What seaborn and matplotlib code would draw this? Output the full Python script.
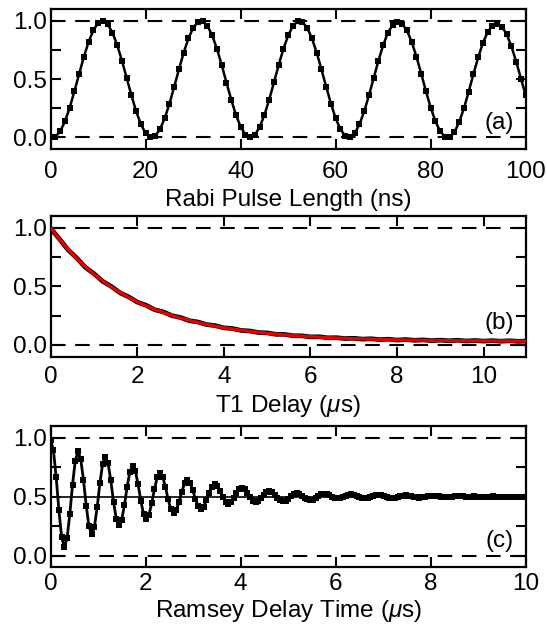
import numpy as np
import pandas as pd
import matplotlib
matplotlib.use("Agg")
import matplotlib.pyplot as plt
import seaborn as sns

# ---------------- data ----------------
rabi_ns = list(range(0, 101))
rabi_p = [0.006, 0.006, 0.051, 0.137, 0.255, 0.397, 0.547, 0.694, 0.822, 0.922,
          0.983, 1.000, 0.971, 0.900, 0.793, 0.658, 0.510, 0.360, 0.223, 0.111,
          0.035, 0.001, 0.013, 0.069, 0.163, 0.290, 0.434, 0.585, 0.728, 0.850,
          0.941, 0.991, 0.997, 0.957, 0.876, 0.760, 0.622, 0.471, 0.324, 0.192,
          0.089, 0.023, 0.000, 0.023, 0.089, 0.193, 0.324, 0.472, 0.622, 0.761,
          0.876, 0.957, 0.997, 0.991, 0.941, 0.850, 0.728, 0.584, 0.434, 0.289,
          0.163, 0.069, 0.013, 0.001, 0.035, 0.112, 0.223, 0.361, 0.510, 0.659,
          0.793, 0.900, 0.966, 0.990, 0.975, 0.918, 0.820, 0.693, 0.547, 0.396,
          0.256, 0.137, 0.051, 0.006, 0.000, 0.045, 0.131, 0.250, 0.393, 0.545,
          0.688, 0.812, 0.905, 0.960, 0.975, 0.952, 0.885, 0.781, 0.650, 0.505,
          0.360]

t1_us = [0.0, 0.2, 0.4, 0.6, 0.8, 1.0, 1.2, 1.4, 1.6, 1.8, 2.0, 2.2, 2.4, 2.6,
         2.8, 3.0, 3.2, 3.4, 3.6, 3.8, 4.0, 4.2, 4.4, 4.6, 4.8, 5.0, 5.2, 5.4,
         5.6, 5.8, 6.0, 6.2, 6.4, 6.6, 6.8, 7.0, 7.2, 7.4, 7.6, 7.8, 8.0, 8.2,
         8.4, 8.6, 8.8, 9.0, 9.2, 9.4, 9.6, 9.8, 10.0, 10.2, 10.4, 10.6, 10.8, 11.0]
t1_data = [0.995, 0.905, 0.812, 0.742, 0.662, 0.608, 0.543, 0.499, 0.445, 0.410,
           0.366, 0.339, 0.301, 0.282, 0.250, 0.234, 0.207, 0.196, 0.174, 0.165,
           0.146, 0.140, 0.124, 0.119, 0.106, 0.103, 0.091, 0.090, 0.079, 0.078,
           0.069, 0.070, 0.061, 0.062, 0.055, 0.057, 0.050, 0.053, 0.046, 0.049,
           0.042, 0.046, 0.040, 0.043, 0.037, 0.041, 0.036, 0.040, 0.034, 0.038,
           0.033, 0.037, 0.032, 0.036, 0.031, 0.034]
t1_fit = [1.000, 0.903, 0.816, 0.737, 0.667, 0.603, 0.546, 0.494, 0.448, 0.406,
          0.369, 0.335, 0.304, 0.277, 0.252, 0.230, 0.210, 0.192, 0.176, 0.161,
          0.148, 0.136, 0.126, 0.116, 0.108, 0.100, 0.093, 0.087, 0.081, 0.076,
          0.071, 0.067, 0.063, 0.060, 0.057, 0.054, 0.052, 0.050, 0.048, 0.046,
          0.044, 0.043, 0.042, 0.040, 0.039, 0.039, 0.038, 0.037, 0.036, 0.036,
          0.035, 0.035, 0.034, 0.034, 0.033, 0.033]

ramsey_step_us = 0.0575
ramsey_p = [0.980, 0.893, 0.666, 0.384, 0.157, 0.070, 0.148, 0.352, 0.603, 0.807,
            0.885, 0.818, 0.641, 0.424, 0.248, 0.180, 0.243, 0.408, 0.612, 0.777,
            0.840, 0.784, 0.638, 0.457, 0.311, 0.255, 0.303, 0.429, 0.586, 0.712,
            0.760, 0.717, 0.605, 0.465, 0.353, 0.310, 0.347, 0.445, 0.565, 0.663,
            0.700, 0.668, 0.583, 0.477, 0.392, 0.360, 0.387, 0.457, 0.543, 0.613,
            0.640, 0.617, 0.556, 0.480, 0.418, 0.395, 0.415, 0.468, 0.532, 0.585,
            0.605, 0.589, 0.548, 0.497, 0.456, 0.440, 0.453, 0.487, 0.528, 0.562,
            0.575, 0.564, 0.534, 0.496, 0.466, 0.455, 0.464, 0.486, 0.514, 0.536,
            0.545, 0.537, 0.516, 0.490, 0.468, 0.460, 0.466, 0.483, 0.505, 0.522,
            0.528, 0.522, 0.508, 0.490, 0.476, 0.470, 0.475, 0.489, 0.506, 0.520,
            0.525, 0.521, 0.511, 0.499, 0.489, 0.485, 0.488, 0.497, 0.508, 0.517,
            0.520, 0.517, 0.509, 0.498, 0.490, 0.487, 0.490, 0.497, 0.505, 0.512,
            0.515, 0.513, 0.506, 0.499, 0.492, 0.490, 0.492, 0.497, 0.503, 0.508,
            0.510, 0.508, 0.504, 0.498, 0.494, 0.492, 0.494, 0.498, 0.502, 0.506,
            0.508, 0.507, 0.503, 0.500, 0.496, 0.495, 0.496, 0.498, 0.502, 0.504,
            0.505, 0.503, 0.498, 0.495, 0.499, 0.502, 0.497, 0.494, 0.498, 0.501,
            0.496, 0.499, 0.503, 0.497, 0.495, 0.500, 0.498, 0.494, 0.499, 0.501,
            0.496, 0.498, 0.500, 0.495, 0.497]
ramsey_us = [round(i * ramsey_step_us, 4) for i in range(len(ramsey_p))]

y_ticks = [0.0, 0.5, 1.0]
y_tick_labels = ["0.0", "0.5", "1.0"]
rabi_xticks = [0, 20, 40, 60, 80, 100]
us_xticks = [0, 2, 4, 6, 8, 10]

# ---------------- style ----------------
sns.set_style("ticks")
plt.rcParams["font.family"] = ["Liberation Sans", "DejaVu Sans"]
plt.rcParams["mathtext.fontset"] = "custom"
plt.rcParams["mathtext.it"] = "Liberation Sans:italic"
plt.rcParams["mathtext.rm"] = "Liberation Sans"

FS = 17.5
fig = plt.figure(figsize=(5.47, 6.38), dpi=100)
W, H = 547.0, 638.0
left, right = 50.7, 525.7
boxes = [(9.3, 149.0), (216.0, 356.7), (426.0, 567.3)]
axes = []
for top, bot in boxes:
    ax = fig.add_axes([left / W, 1 - bot / H, (right - left) / W, (bot - top) / H])
    axes.append(ax)


def style(ax, xticks, xlim, xlabel, tag, tag_y, xpad, lpad):
    ax.set_xlim(*xlim)
    ax.set_ylim(-0.1, 1.1)
    for v in (0.0, 1.0):
        ax.axhline(v, color="k", lw=1.5, dashes=(7, 4.6), zorder=1)
    ax.set_xticks(xticks)
    ax.set_xticklabels([str(v) for v in xticks])
    ax.set_yticks(y_ticks)
    ax.set_yticklabels(y_tick_labels)
    ax.set_yticks([0.25, 0.75], minor=True)
    ax.tick_params(axis="both", which="both", direction="in", top=True, right=True,
                   width=1.5, labelsize=FS, color="k", labelcolor="k")
    ax.tick_params(which="major", length=7)
    ax.tick_params(which="minor", length=7)
    ax.tick_params(axis="y", which="major", pad=3)
    ax.tick_params(axis="x", which="major", pad=xpad)
    for s in ax.spines.values():
        s.set_linewidth(1.6)
        s.set_color("k")
    ax.set_xlabel(xlabel, fontsize=FS, labelpad=lpad, color="k")
    ax.set_ylabel("")
    ax.text(0.975, tag_y, tag, transform=ax.transAxes, ha="right", va="center",
            fontsize=FS, color="k")


# (a) Rabi
ax = axes[0]
df_a = pd.DataFrame({"x": rabi_ns, "y": rabi_p})
sns.lineplot(data=df_a, x="x", y="y", ax=ax, color="k", lw=1.8, marker="s",
             markersize=3.7, markeredgewidth=0, zorder=3)
style(ax, rabi_xticks, (0, 100), "Rabi Pulse Length (ns)", "(a)", 0.186, 8.5, 4.5)

# (b) T1
ax = axes[1]
df_b = pd.DataFrame({"x": t1_us, "y": t1_data})
df_bf = pd.DataFrame({"x": t1_us, "y": t1_fit})
sns.lineplot(data=df_b, x="x", y="y", ax=ax, color="k", lw=3.4, zorder=3)
sns.lineplot(data=df_bf, x="x", y="y", ax=ax, color="#e60000", lw=2.3, zorder=4)
style(ax, us_xticks, (0, 10.97), r"T1 Delay ($\mu$s)", "(b)", 0.24, 6.5, 3.7)

# (c) Ramsey
ax = axes[2]
ax.axhline(0.5, color="k", lw=1.2, zorder=1)
df_c = pd.DataFrame({"x": ramsey_us, "y": ramsey_p})
sns.lineplot(data=df_c, x="x", y="y", ax=ax, color="k", lw=2.0, marker="s",
             markersize=3.8, markeredgewidth=0, zorder=3)
style(ax, us_xticks, (0, 10), r"Ramsey Delay Time ($\mu$s)", "(c)", 0.183, 4.3, 2.3)

fig.savefig("out.png", dpi=100)
